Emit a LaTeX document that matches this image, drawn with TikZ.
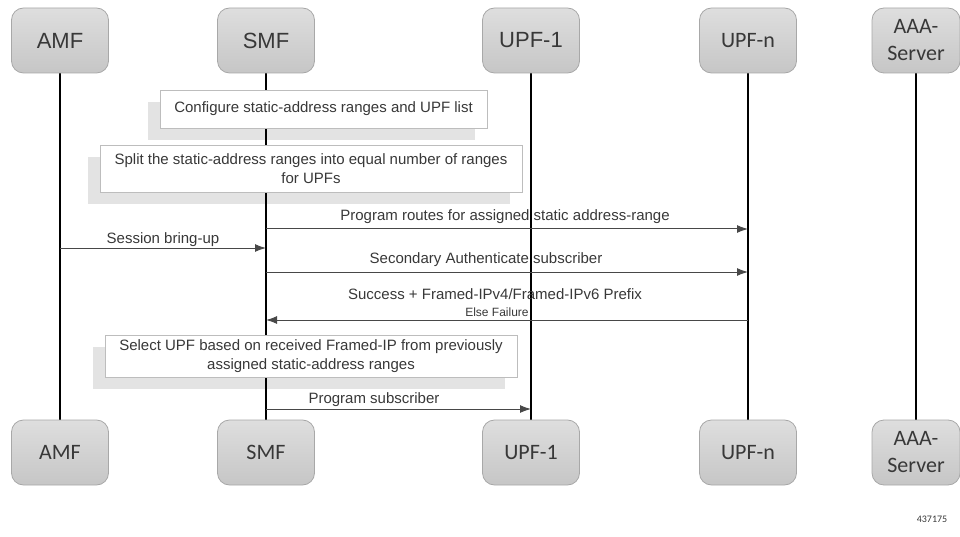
\documentclass[tikz,border=0pt]{standalone}
\usepackage{fontspec}
\setmainfont{Liberation Sans}
\newfontfamily\calib{Carlito}
\usetikzlibrary{arrows.meta}
\definecolor{boxtop}{HTML}{DEDEDE}
\definecolor{boxbot}{HTML}{C6C6C6}
\definecolor{boxline}{HTML}{A8A8A8}
\definecolor{txt}{HTML}{383838}
\definecolor{shadowc}{HTML}{E3E3E3}
\definecolor{noteline}{HTML}{BDBDBD}
\definecolor{arr}{HTML}{484848}
\pgfdeclarelayer{bg}
\pgfdeclarelayer{mid}
\pgfsetlayers{bg,mid,main}
\begin{document}
\begin{tikzpicture}[x=1pt,y=-1pt,
  actor/.style={draw=boxline, line width=0.8pt, rounded corners=12pt,
    top color=boxtop, bottom color=boxbot, minimum width=97pt,
    minimum height=65pt, text=txt, align=center, inner sep=0pt,
    font=\fontsize{22}{27}\selectfont},
  actorc/.style={actor, font=\calib\fontsize{22}{27}\selectfont},
  note/.style={draw=noteline, line width=0.7pt, fill=white, text=txt,
    align=center, inner sep=0pt, font=\fontsize{15}{18.5}\selectfont},
  lbl/.style={text=txt, inner sep=0pt, font=\fontsize{15}{18}\selectfont},
  slbl/.style={text=txt, inner sep=0pt, font=\fontsize{12}{14}\selectfont},
  msg/.style={draw=arr, line width=1pt, -{Latex[length=11pt,width=8pt]}},
  life/.style={draw=black, line width=2.2pt},
  shade/.style={fill=shadowc, draw=none}]
\useasboundingbox (0,0) rectangle (960,537);
% top actors
\node[actor]  (tAMF) at (60,40.5) {AMF};
\node[actor]  (tSMF) at (266,40.5) {SMF};
\node[actor]  (tUPF1) at (531,40.5) {UPF-1};
\node[actorc] (tUPFn) at (748,40.5) {UPF-n};
\node[actorc, minimum width=88pt] (tAAA) at (916,40.5) {AAA-\\Server};
% bottom actors
\node[actorc] (bAMF) at (60,452.5) {AMF};
\node[actorc] (bSMF) at (266,452.5) {SMF};
\node[actorc] (bUPF1) at (531,452.5) {UPF-1};
\node[actorc] (bUPFn) at (748,452.5) {UPF-n};
\node[actorc, minimum width=88pt] (bAAA) at (916,452.5) {AAA-\\Server};
% lifelines
\begin{pgfonlayer}{mid}
\draw[life] (tAMF.south) -- (bAMF.north);
\draw[life] (tSMF.south) -- (bSMF.north);
\draw[life] (tUPF1.south) -- (bUPF1.north);
\draw[life] (tUPFn.south) -- (bUPFn.north);
\draw[life] (tAAA.south) -- (bAAA.north);
\end{pgfonlayer}
% notes
\node[note, minimum width=327pt, minimum height=38pt] (n1) at (323.5,109)
  {Configure static-address ranges and UPF list};
\node[note, minimum width=422pt, minimum height=47pt] (n2) at (311,168.5)
  {Split the static-address ranges into equal number of ranges\\for UPFs};
\node[note, minimum width=412pt, minimum height=42pt] (n3) at (311,356)
  {Select UPF based on received Framed-IP from previously\\assigned static-address ranges};
\begin{pgfonlayer}{bg}
\fill[shade] ([shift={(-12,12)}]n1.north west) rectangle ([shift={(-12,12)}]n1.south east);
\fill[shade] ([shift={(-12,12)}]n2.north west) rectangle ([shift={(-12,12)}]n2.south east);
\fill[shade] ([shift={(-12,12)}]n3.north west) rectangle ([shift={(-12,12)}]n3.south east);
\end{pgfonlayer}
% message end points on lifelines
\coordinate (s1) at (266,229);  \coordinate (u1) at (748,229);
\coordinate (a2) at (60,248);   \coordinate (s2) at (266,248);
\coordinate (s3) at (266,272);  \coordinate (u3) at (748,272);
\coordinate (u4) at (748,320);  \coordinate (s4) at (266,320);
\coordinate (s5) at (266,409);  \coordinate (p5) at (531,409);
\draw[msg] (s1) -- (u1);
\draw[msg] (a2) -- (s2);
\draw[msg] (s3) -- (u3);
\draw[msg] (u4) -- (s4);
\draw[msg] (s5) -- (p5);
% labels
\node[lbl] (l1) at (505,217) {Program routes for assigned static address-range};
\node[lbl] (l2) at (163,240) {Session bring-up};
\node[lbl] (l3) at (486,260) {Secondary Authenticate subscriber};
\node[lbl] (l4) at (495,294) {Success + Framed-IPv4/Framed-IPv6 Prefix};
\node[slbl] (l4b) at (497,312) {Else Failure};
\node[lbl] (l5) at (374,400) {Program subscriber};
\node[text=txt, inner sep=0pt, font=\calib\fontsize{10}{12}\selectfont] (id) at (932,519) {437175};
\end{tikzpicture}
\end{document}
